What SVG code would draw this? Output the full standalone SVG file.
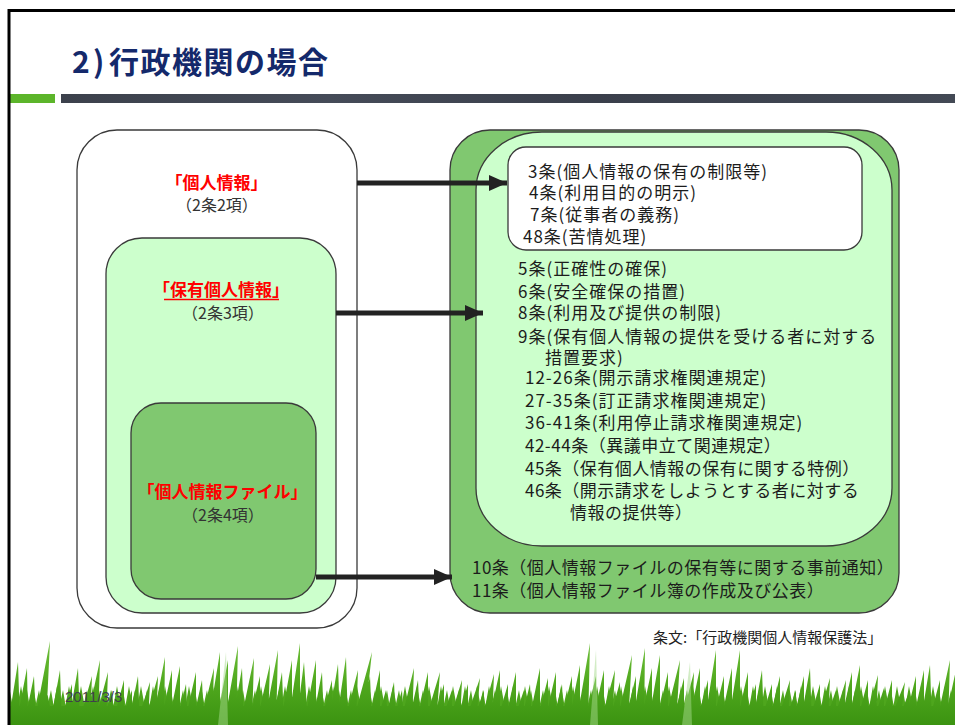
<svg xmlns="http://www.w3.org/2000/svg" width="955" height="725" viewBox="0 0 955 725">
  <defs>
    <linearGradient id="grassFill" gradientUnits="userSpaceOnUse" x1="0" y1="640" x2="0" y2="725">
      <stop offset="0" stop-color="#6fbf3a"/>
      <stop offset="0.5" stop-color="#50a91e"/>
      <stop offset="1" stop-color="#3b9311"/>
    </linearGradient>
    <pattern id="tufts" patternUnits="userSpaceOnUse" x="0" y="686" width="12" height="22">
      <path d="M-1 22L3 4L6 22ZM5 22L9 0L13 22Z" fill="#4ea61d"/>
    </pattern>
    <linearGradient id="barFill" x1="0" y1="0" x2="1" y2="0">
      <stop offset="0" stop-color="#3c414c"/>
      <stop offset="0.3" stop-color="#454b58"/>
      <stop offset="0.6" stop-color="#3a3f4b"/>
      <stop offset="1" stop-color="#434955"/>
    </linearGradient>
    <marker id="arrowHead" markerUnits="userSpaceOnUse" markerWidth="20" markerHeight="18" refX="18" refY="8" orient="auto">
      <path d="M0,0 L18,8 L0,16 Z" fill="#222"/>
    </marker>
    <style>
      .box { stroke: #3a3a3a; stroke-width: 1.3; }
      .white { fill: #ffffff; }
      .pale { fill: #ccffcc; }
      .green { fill: #80c870; }
      .term { font-family: "Noto Sans CJK JP", sans-serif; font-size: 17px; font-weight: 700; fill: #ff0000; text-anchor: middle; }
      .ref { font-family: "Noto Sans CJK JP", sans-serif; font-size: 16px; fill: #333333; text-anchor: middle; }
      .art { font-family: "Noto Sans CJK JP", sans-serif; font-size: 17px; letter-spacing: 1px; fill: #1c1c1c; }
      .wide { letter-spacing: 0.5px; }
      .conn { stroke: #222; stroke-width: 5; fill: none; marker-end: url(#arrowHead); }
    </style>
  </defs>

  <rect x="0" y="0" width="955" height="725" fill="#ffffff"/>

  <!-- title -->
  <text font-family="'Noto Sans CJK JP', sans-serif" font-size="30" font-weight="700" fill="#14296b" y="73" letter-spacing="1.5"><tspan x="72">2</tspan><tspan x="93">)</tspan><tspan x="109">行政機関の場合</tspan></text>

  <!-- header rule -->
  <rect x="10" y="94" width="45" height="9" fill="#5cb52a"/>
  <rect x="61" y="94" width="894" height="9" fill="url(#barFill)"/>

  <!-- grass strip -->
  <g id="grass" fill="url(#grassFill)">
    <rect x="10" y="686" width="945" height="22" fill="url(#tufts)"/>
    <path d="M10 706H955V725H10Z"/>
    <path d="M8 725L18 662L20 725ZM16 725L27 668L28 725ZM24 725L34 676L36 725ZM34 725L50 641L46 725ZM42 725L44 678L54 725ZM50 725L60 670L62 725ZM60 725L72 684L72 725ZM68 725L78 668L80 725ZM78 725L92 676L90 725ZM86 725L100 660L98 725ZM94 725L108 672L106 725ZM102 725L112 690L114 725ZM112 725L124 680L124 725ZM120 725L132 690L132 725ZM128 725L138 676L140 725ZM136 725L150 682L148 725ZM144 725L158 676L156 725ZM152 725L165 657L164 725ZM160 725L172 670L172 725ZM168 725L180 666L180 725ZM176 725L186 684L188 725ZM184 725L196 672L196 725ZM192 725L202 680L204 725ZM200 725L214 668L212 725ZM208 725L220 652L220 725ZM216 725L228 660L228 725ZM224 725L238 646L236 725ZM232 725L242 668L244 725ZM240 725L254 658L252 725ZM248 725L260 676L260 725ZM256 725L270 664L268 725ZM264 725L278 650L276 725ZM272 725L282 672L284 725ZM280 725L292 660L292 725ZM288 725L300 643L300 725ZM296 725L304 662L308 725ZM304 725L316 660L316 725ZM312 725L322 672L324 725ZM320 725L332 680L332 725ZM328 725L338 664L340 725ZM336 725L346 657L348 725ZM344 725L358 670L356 725ZM352 725L372 652L364 725ZM360 725L370 676L372 725ZM368 725L380 670L380 725ZM376 725L386 690L388 725ZM384 725L394 682L396 725ZM392 725L402 690L404 725ZM400 725L414 668L412 725ZM408 725L418 680L420 725ZM416 725L428 672L428 725ZM424 725L440 672L436 725ZM432 725L444 684L444 725ZM440 725L452 690L452 725ZM448 725L462 680L460 725ZM456 725L468 684L468 725ZM464 725L480 678L476 725ZM472 725L484 690L484 725ZM480 725L494 674L492 725ZM488 725L500 670L500 725ZM496 725L508 684L508 725ZM504 725L516 672L516 725ZM512 725L524 690L524 725ZM520 725L530 684L532 725ZM528 725L540 668L540 725ZM536 725L548 678L548 725ZM544 725L556 672L556 725ZM552 725L562 684L564 725ZM560 725L572 676L572 725ZM568 725L580 665L580 725ZM576 725L590 643L588 725ZM584 725L596 676L596 725ZM592 725L604 670L604 725ZM600 725L615 670L612 725ZM608 725L620 682L620 725ZM616 725L632 655L628 725ZM624 725L636 676L636 725ZM632 725L645 648L644 725ZM640 725L652 668L652 725ZM648 725L660 655L660 725ZM656 725L668 672L668 725ZM664 725L680 660L676 725ZM672 725L684 678L684 725ZM680 725L694 672L692 725ZM688 725L700 668L700 725ZM696 725L708 680L708 725ZM704 725L716 650L716 725ZM712 725L724 676L724 725ZM720 725L732 668L732 725ZM728 725L740 650L740 725ZM736 725L748 672L748 725ZM744 725L756 684L756 725ZM752 725L762 670L764 725ZM760 725L772 684L772 725ZM768 725L780 676L780 725ZM776 725L790 680L788 725ZM784 725L796 690L796 725ZM792 725L804 676L804 725ZM800 725L810 668L812 725ZM808 725L820 684L820 725ZM816 725L830 678L828 725ZM824 725L836 690L836 725ZM832 725L846 680L844 725ZM840 725L852 672L852 725ZM848 725L860 665L860 725ZM856 725L868 680L868 725ZM864 725L878 675L876 725ZM872 725L884 688L884 725ZM880 725L892 680L892 725ZM888 725L905 682L900 725ZM896 725L910 690L908 725ZM904 725L916 676L916 725ZM912 725L924 670L924 725ZM920 725L930 665L932 725ZM928 725L940 680L940 725ZM936 725L950 660L948 725ZM944 725L956 670L956 725Z"/>
    <path d="M218 725L226 652L228 725ZM590 725L596 650L598 725ZM682 725L690 662L692 725Z" fill="#a6d98c" opacity="0.5"/>
  </g>

  <text x="65" y="702" font-family="'Liberation Sans', sans-serif" font-size="15" fill="#3f3f4c">2011/3/3</text>

  <!-- left: nested definitions -->
  <g id="node-personal-info">
    <rect class="box white" x="77" y="130" width="280" height="498" rx="40" ry="40"/>
    <text class="term" x="216.5" y="189">「個人情報」</text>
    <text class="ref" x="217" y="211">（2条2項）</text>
  </g>
  <g id="node-held-personal-info">
    <rect class="box pale" x="106" y="238" width="230" height="375" rx="36" ry="36"/>
    <text class="term" x="221" y="296">「保有個人情報」</text>
    <line x1="164" y1="299.5" x2="279" y2="299.5" stroke="#ff0000" stroke-width="1.4"/>
    <text class="ref" x="223" y="318.5">（2条3項）</text>
  </g>
  <g id="node-personal-info-file">
    <rect class="box green" x="131" y="403" width="185" height="196" rx="30" ry="30"/>
    <text class="term" x="222.5" y="498">「個人情報ファイル」</text>
    <text class="ref" x="223" y="520.5">（2条4項）</text>
  </g>

  <!-- right: applicable articles -->
  <g id="node-articles-file">
    <rect class="box green" x="450" y="130" width="449" height="483" rx="40" ry="40"/>
    <text class="art wide" x="472" y="574">10条（個人情報ファイルの保有等に関する事前通知）</text>
    <text class="art wide" x="472" y="597">11条（個人情報ファイル簿の作成及び公表）</text>
  </g>
  <g id="node-articles-held">
    <rect class="box pale" x="476" y="132" width="416" height="414" rx="66" ry="58"/>
    <text class="art" x="518" y="274.5">5条(正確性の確保)</text>
    <text class="art" x="518" y="297.5">6条(安全確保の措置)</text>
    <text class="art" x="518" y="319">8条(利用及び提供の制限)</text>
    <text class="art" x="518" y="342.5">9条(保有個人情報の提供を受ける者に対する</text>
    <text class="art" x="545" y="364">措置要求)</text>
    <text class="art" x="525" y="384">12-26条(開示請求権関連規定)</text>
    <text class="art" x="525" y="407">27-35条(訂正請求権関連規定)</text>
    <text class="art" x="525" y="429">36-41条(利用停止請求権関連規定)</text>
    <text class="art wide" x="525" y="452">42-44条（異議申立て関連規定）</text>
    <text class="art wide" x="525" y="475">45条（保有個人情報の保有に関する特例）</text>
    <text class="art wide" x="525" y="497">46条（開示請求をしようとする者に対する</text>
    <text class="art wide" x="570" y="519">情報の提供等）</text>
  </g>
  <g id="node-articles-personal">
    <rect class="box white" x="508" y="147" width="354" height="103" rx="18" ry="18"/>
    <text class="art" x="528" y="178">3条(個人情報の保有の制限等)</text>
    <text class="art" x="529" y="199">4条(利用目的の明示)</text>
    <text class="art" x="530" y="221">7条(従事者の義務)</text>
    <text class="art" x="523" y="243">48条(苦情処理)</text>
  </g>

  <!-- connectors -->
  <g id="connectors">
    <line class="conn" x1="357" y1="183" x2="507" y2="183"/>
    <line class="conn" x1="336" y1="313" x2="483" y2="313"/>
    <line class="conn" x1="316" y1="577" x2="452" y2="577"/>
  </g>

  <text x="653" y="643" font-family="'Noto Sans CJK JP', sans-serif" font-size="15" fill="#222">条文:「行政機関個人情報保護法」</text>

  <!-- slide frame -->
  <path d="M9 725V10.5H955" fill="none" stroke="#000" stroke-width="3"/>
</svg>
